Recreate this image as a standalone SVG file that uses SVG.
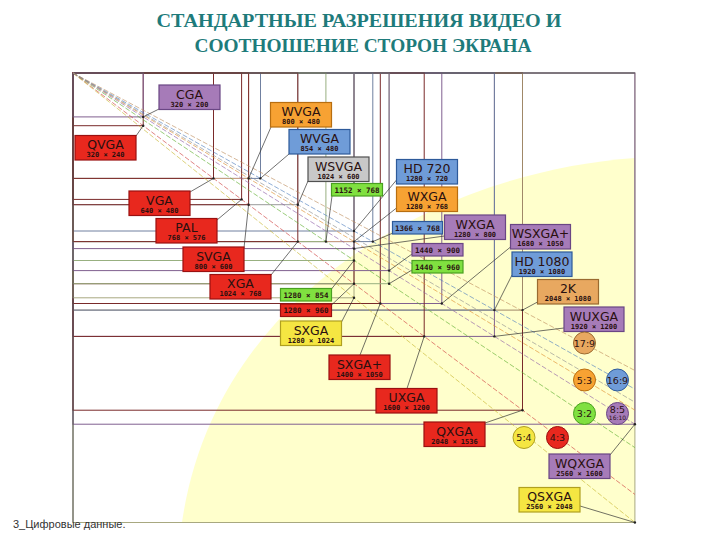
<svg xmlns="http://www.w3.org/2000/svg" width="720" height="540" viewBox="0 0 720 540">
<defs>
<style>
.t{font-family:"Liberation Serif","DejaVu Serif",serif;font-weight:bold;font-size:19.5px;fill:#1e7b7b;text-anchor:middle}
.ft{font-family:"Liberation Sans",Arial,sans-serif;font-size:11px;fill:#333}
.nm{font-family:"DejaVu Sans",sans-serif;font-size:12.5px;text-anchor:middle;fill:#2a1010}
.sz{font-family:"DejaVu Sans Mono","DejaVu Sans",monospace;font-weight:bold;font-size:7px;text-anchor:middle;fill:#2a1010}
.sm{font-family:"DejaVu Sans Mono","DejaVu Sans",monospace;font-weight:bold;font-size:7.5px;text-anchor:middle;fill:#2a1010}
.ct{font-family:"DejaVu Sans",sans-serif;font-size:9.5px;text-anchor:middle;fill:#2a1010}
.box{stroke-width:1.2}
.r{fill:#e8281e;stroke:#9a1010}
.p{fill:#a67bb8;stroke:#6a4684}
.o{fill:#f7a233;stroke:#b86e10}
.b{fill:#6f9cd8;stroke:#2d5a9a}
.g{fill:#80e040;stroke:#4aa020}
.y{fill:#f5e642;stroke:#b0a020}
.gr{fill:#c8c8c8;stroke:#505050}
.k{fill:#e8a860;stroke:#9a6a30}
.ln rect{fill:none;stroke-width:1}
.lr{stroke:#7a2a2a}
.lp{stroke:#806090}
.lo{stroke:#d0a080}
.lb{stroke:#7080a0}
.lg{stroke:#98b080}
.ly{stroke:#a8a880}
.lgr{stroke:#999}
.lk{stroke:#a08868}
.dg line{stroke-width:0.9;stroke-dasharray:5 2;opacity:0.7}
.ld line{stroke:#333;stroke-width:0.7}
.ld circle{fill:#222}
</style>
</defs>
<rect width="720" height="540" fill="#fff"/>
<path d="M634.9,158 C440,172 215,292 182,522.5 L634.9,522.5 Z" fill="#ffffcc"/>

<g id="rect-lines" class="ln">
<rect class="ly" x="73" y="73" width="561.9" height="449.5"/>
<rect class="lp" x="73" y="73" width="561.9" height="351.2"/>
<rect class="lr" x="73" y="73" width="449.5" height="337.2"/>
<rect class="lk" x="73" y="73" width="449.5" height="237.1"/>
<rect class="lp" x="73" y="73" width="421.4" height="263.4"/>
<rect class="lb" x="73" y="73" width="421.4" height="237.1"/>
<rect class="lp" x="73" y="73" width="368.8" height="230.5"/>
<rect class="lr" x="73" y="73" width="351.2" height="263.4"/>
<rect class="lr" x="73" y="73" width="307.3" height="230.5"/>
<rect class="ly" x="73" y="73" width="281" height="224.8"/>
<rect class="lr" x="73" y="73" width="281" height="210.7"/>
<rect class="lg" x="73" y="73" width="281" height="187.5"/>
<rect class="lg" x="73" y="73" width="316.1" height="210.7"/>
<rect class="lp" x="73" y="73" width="316.1" height="197.6"/>
<rect class="lp" x="73" y="73" width="281" height="175.6"/>
<rect class="lb" x="73" y="73" width="299.8" height="168.6"/>
<rect class="lo" x="73" y="73" width="281" height="168.6"/>
<rect class="lb" x="73" y="73" width="281" height="158"/>
<rect class="lg" x="73" y="73" width="252.9" height="168.6"/>
<rect class="lgr" x="73" y="73" width="224.8" height="131.7"/>
<rect class="lb" x="73" y="73" width="187.5" height="105.4"/>
<rect class="lo" x="73" y="73" width="175.6" height="105.4"/>
<rect class="lr" x="73" y="73" width="224.8" height="168.6"/>
<rect class="lr" x="73" y="73" width="175.6" height="131.7"/>
<rect class="lr" x="73" y="73" width="168.6" height="126.4"/>
<rect class="lr" x="73" y="73" width="140.5" height="105.4"/>
<rect class="lr" x="73" y="73" width="70.2" height="52.7"/>
<rect class="lp" x="73" y="73" width="70.2" height="43.9"/>
<line x1="73" y1="73" x2="73" y2="522.5" stroke="#555" stroke-width="1"/>
<line x1="73" y1="73" x2="634.9" y2="73" stroke="#555" stroke-width="1"/>
</g>

<g id="connectors">
<g class="dg">
<line x1="73" y1="73" x2="634.9" y2="494.4" stroke="#d04040"/>
<line x1="73" y1="73" x2="634.9" y2="522.5" stroke="#c8b830"/>
<line x1="73" y1="73" x2="634.9" y2="447.6" stroke="#60b030"/>
<line x1="73" y1="73" x2="634.9" y2="424.2" stroke="#9060a8"/>
<line x1="73" y1="73" x2="634.9" y2="410.1" stroke="#e09030"/>
<line x1="73" y1="73" x2="634.9" y2="402.2" stroke="#909090"/>
<line x1="73" y1="73" x2="634.9" y2="389.1" stroke="#5080c0"/>
<line x1="73" y1="73" x2="634.9" y2="370.5" stroke="#c09060"/>
</g>
<g class="ld">
<line x1="159" y1="109" x2="143.2" y2="116.9"/><circle cx="143.2" cy="116.9" r="1.2"/>
<line x1="136" y1="136" x2="143.2" y2="125.7"/><circle cx="143.2" cy="125.7" r="1.2"/>
<line x1="190" y1="192" x2="213.5" y2="178.4"/><circle cx="213.5" cy="178.4" r="1.2"/>
<line x1="217" y1="220" x2="241.6" y2="199.4"/><circle cx="241.6" cy="199.4" r="1.2"/>
<line x1="244" y1="248" x2="248.6" y2="204.7"/><circle cx="248.6" cy="204.7" r="1.2"/>
<line x1="271" y1="275" x2="297.8" y2="241.6"/><circle cx="297.8" cy="241.6" r="1.2"/>
<line x1="271" y1="127" x2="248.6" y2="178.4"/><circle cx="248.6" cy="178.4" r="1.2"/>
<line x1="289" y1="154" x2="260.4" y2="178.4"/><circle cx="260.4" cy="178.4" r="1.2"/>
<line x1="308" y1="181" x2="297.8" y2="204.7"/><circle cx="297.8" cy="204.7" r="1.2"/>
<line x1="332" y1="196" x2="325.9" y2="241.6"/><circle cx="325.9" cy="241.6" r="1.2"/>
<line x1="396.5" y1="180" x2="354" y2="231"/><circle cx="354" cy="231" r="1.2"/>
<line x1="396.5" y1="208" x2="354" y2="241.6"/><circle cx="354" cy="241.6" r="1.2"/>
<line x1="393" y1="233" x2="372.8" y2="241.6"/><circle cx="372.8" cy="241.6" r="1.2"/>
<line x1="444.5" y1="236" x2="354" y2="248.6"/><circle cx="354" cy="248.6" r="1.2"/>
<line x1="412" y1="254" x2="389.1" y2="270.6"/><circle cx="389.1" cy="270.6" r="1.2"/>
<line x1="412" y1="270" x2="389.1" y2="283.7"/><circle cx="389.1" cy="283.7" r="1.2"/>
<line x1="331.5" y1="289" x2="354" y2="260.5"/><circle cx="354" cy="260.5" r="1.2"/>
<line x1="331.5" y1="305" x2="354" y2="283.7"/><circle cx="354" cy="283.7" r="1.2"/>
<line x1="341.5" y1="322" x2="354" y2="297.8"/><circle cx="354" cy="297.8" r="1.2"/>
<line x1="360" y1="355" x2="380.3" y2="303.5"/><circle cx="380.3" cy="303.5" r="1.2"/>
<line x1="407" y1="388.5" x2="424.2" y2="336.4"/><circle cx="424.2" cy="336.4" r="1.2"/>
<line x1="485" y1="423" x2="522.5" y2="410.2"/><circle cx="522.5" cy="410.2" r="1.2"/>
<line x1="610" y1="455" x2="634.9" y2="424.2"/><circle cx="634.9" cy="424.2" r="1.2"/>
<line x1="580" y1="506" x2="634.9" y2="522.5"/><circle cx="634.9" cy="522.5" r="1.2"/>
<line x1="564" y1="328" x2="494.4" y2="336.4"/><circle cx="494.4" cy="336.4" r="1.2"/>
<line x1="537.5" y1="302" x2="522.5" y2="310.1"/><circle cx="522.5" cy="310.1" r="1.2"/>
<line x1="512" y1="275" x2="494.4" y2="310.1"/><circle cx="494.4" cy="310.1" r="1.2"/>
<line x1="510.5" y1="247" x2="441.8" y2="303.5"/><circle cx="441.8" cy="303.5" r="1.2"/>
</g>
</g>

<g id="cga"><rect class="box p" x="159" y="85" width="61" height="24.5"/><text class="nm" x="189.5" y="98.5">CGA</text><text class="sz" x="189.5" y="106.5">320 × 200</text></g>
<g id="qvga"><rect class="box r" x="75" y="135.5" width="61" height="24.5"/><text class="nm" x="105.5" y="149">QVGA</text><text class="sz" x="105.5" y="157">320 × 240</text></g>
<g id="vga"><rect class="box r" x="129" y="191" width="61" height="24.5"/><text class="nm" x="159.5" y="204.5">VGA</text><text class="sz" x="159.5" y="212.5">640 × 480</text></g>
<g id="pal"><rect class="box r" x="156" y="218.5" width="61" height="24.5"/><text class="nm" x="186.5" y="232">PAL</text><text class="sz" x="186.5" y="240">768 × 576</text></g>
<g id="svga"><rect class="box r" x="183" y="247" width="61" height="24.5"/><text class="nm" x="213.5" y="260.5">SVGA</text><text class="sz" x="213.5" y="268.5">800 × 600</text></g>
<g id="xga"><rect class="box r" x="210" y="274.5" width="61" height="24.5"/><text class="nm" x="240.5" y="288">XGA</text><text class="sz" x="240.5" y="296">1024 × 768</text></g>
<g id="wvga800"><rect class="box o" x="270.5" y="102.5" width="61" height="24.5"/><text class="nm" x="301" y="116">WVGA</text><text class="sz" x="301" y="124">800 × 480</text></g>
<g id="wvga854"><rect class="box b" x="289" y="129.5" width="61" height="24.5"/><text class="nm" x="319.5" y="143">WVGA</text><text class="sz" x="319.5" y="151">854 × 480</text></g>
<g id="wsvga"><rect class="box gr" x="308" y="157" width="61" height="24.5"/><text class="nm" x="338.5" y="170.5">WSVGA</text><text class="sz" x="338.5" y="178.5">1024 × 600</text></g>
<g id="r1152"><rect class="box g" x="331.5" y="183.5" width="51" height="12.5"/><text class="sm" x="357" y="192.5">1152 × 768</text></g>
<g id="hd720"><rect class="box b" x="396.5" y="159.5" width="61" height="24.5"/><text class="nm" x="427" y="173">HD 720</text><text class="sz" x="427" y="181">1280 × 720</text></g>
<g id="wxga768"><rect class="box o" x="396.5" y="187" width="61" height="24.5"/><text class="nm" x="427" y="200.5">WXGA</text><text class="sz" x="427" y="208.5">1280 × 768</text></g>
<g id="r1366"><rect class="box b" x="392.5" y="221.5" width="50" height="12.5"/><text class="sm" x="417.5" y="230.5">1366 × 768</text></g>
<g id="wxga800"><rect class="box p" x="444.5" y="215" width="61" height="24.5"/><text class="nm" x="475" y="228.5">WXGA</text><text class="sz" x="475" y="236.5">1280 × 800</text></g>
<g id="r1440x900"><rect class="box p" x="412" y="243.5" width="51" height="12.5"/><text class="sm" x="437.5" y="252.5">1440 × 900</text></g>
<g id="r1440x960"><rect class="box g" x="412" y="260.5" width="51" height="12.5"/><text class="sm" x="437.5" y="269.5">1440 × 960</text></g>
<g id="wsxgap"><rect class="box p" x="510.5" y="224.5" width="60" height="24.5"/><text class="nm" x="540.5" y="238">WSXGA+</text><text class="sz" x="540.5" y="246">1680 × 1050</text></g>
<g id="hd1080"><rect class="box b" x="512" y="252" width="60" height="24.5"/><text class="nm" x="542" y="265.5">HD 1080</text><text class="sz" x="542" y="273.5">1920 × 1080</text></g>
<g id="k2"><rect class="box k" x="537.5" y="279.5" width="61" height="24.5"/><text class="nm" x="568" y="293">2K</text><text class="sz" x="568" y="301">2048 × 1080</text></g>
<g id="wuxga"><rect class="box p" x="564" y="307" width="60" height="24.5"/><text class="nm" x="594" y="320.5">WUXGA</text><text class="sz" x="594" y="328.5">1920 × 1200</text></g>
<g id="r1280x854"><rect class="box g" x="280.5" y="288.5" width="51" height="12.5"/><text class="sm" x="306" y="297.5">1280 × 854</text></g>
<g id="r1280x960"><rect class="box r" x="280.5" y="304" width="51" height="12.5"/><text class="sm" x="306" y="313">1280 × 960</text></g>
<g id="sxga"><rect class="box y" x="280.5" y="321" width="61" height="24.5"/><text class="nm" x="311" y="334.5">SXGA</text><text class="sz" x="311" y="342.5">1280 × 1024</text></g>
<g id="sxgap"><rect class="box r" x="329" y="355" width="61" height="24.5"/><text class="nm" x="359.5" y="368.5">SXGA+</text><text class="sz" x="359.5" y="376.5">1400 × 1050</text></g>
<g id="uxga"><rect class="box r" x="376" y="388.5" width="61" height="24.5"/><text class="nm" x="406.5" y="402">UXGA</text><text class="sz" x="406.5" y="410">1600 × 1200</text></g>
<g id="qxga"><rect class="box r" x="424" y="422" width="61" height="24.5"/><text class="nm" x="454.5" y="435.5">QXGA</text><text class="sz" x="454.5" y="443.5">2048 × 1536</text></g>
<g id="wqxga"><rect class="box p" x="549" y="454" width="61" height="24.5"/><text class="nm" x="579.5" y="467.5">WQXGA</text><text class="sz" x="579.5" y="475.5">2560 × 1600</text></g>
<g id="qsxga"><rect class="box y" x="519" y="487.5" width="61" height="24.5"/><text class="nm" x="549.5" y="501">QSXGA</text><text class="sz" x="549.5" y="509">2560 × 2048</text></g>

<g id="ar17x9"><circle class="k" cx="584.5" cy="343" r="11"/><text class="ct" x="584.5" y="346.5">17:9</text></g>
<g id="ar5x3"><circle class="o" cx="584.5" cy="380" r="11"/><text class="ct" x="584.5" y="383.5">5:3</text></g>
<g id="ar16x9"><circle class="b" cx="617.5" cy="380" r="11"/><text class="ct" x="617.5" y="383.5">16:9</text></g>
<g id="ar3x2"><circle class="g" cx="584.5" cy="413.5" r="11"/><text class="ct" x="584.5" y="417">3:2</text></g>
<g id="ar8x5"><circle class="p" cx="617.5" cy="413.5" r="11"/><text class="ct" x="617.5" y="413">8:5</text><text class="ct" x="617.5" y="420" style="font-size:6px">16:10</text></g>
<g id="ar5x4"><circle class="y" cx="524" cy="437.5" r="11"/><text class="ct" x="524" y="441">5:4</text></g>
<g id="ar4x3"><circle class="r" cx="557.5" cy="437.5" r="11"/><text class="ct" x="557.5" y="441">4:3</text></g>

<text class="t" x="359" y="27" textLength="405" lengthAdjust="spacingAndGlyphs">СТАНДАРТНЫЕ РАЗРЕШЕНИЯ ВИДЕО И</text>
<text class="t" x="363" y="52" textLength="337" lengthAdjust="spacingAndGlyphs">СООТНОШЕНИЕ СТОРОН ЭКРАНА</text>
<text class="ft" x="13" y="528">3_Цифровые данные.</text>
</svg>
